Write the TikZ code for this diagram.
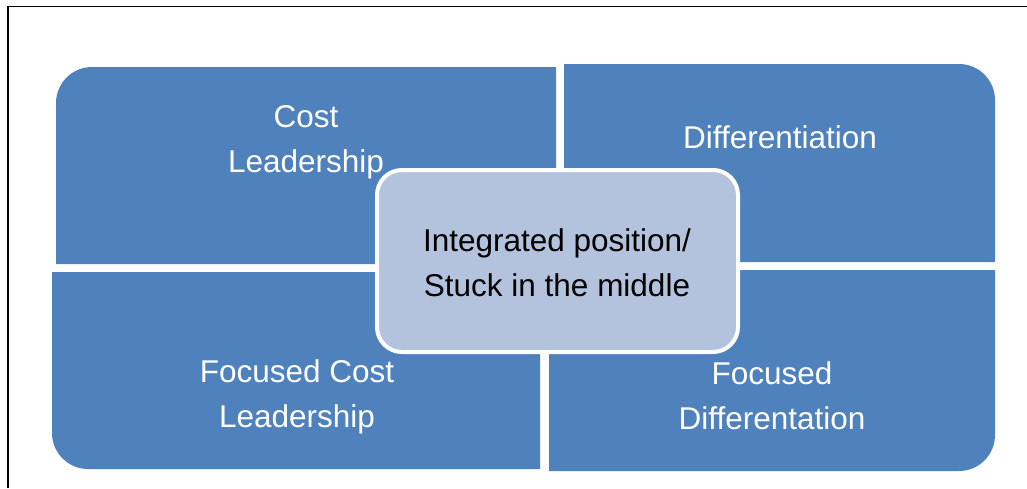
\documentclass[tikz,border=0pt]{standalone}
\usepackage{fontspec}
\setmainfont{Liberation Sans}
\definecolor{quad}{HTML}{4F81BD}
\definecolor{mid}{HTML}{B3C2DD}
\begin{document}
\begin{tikzpicture}[x=1pt,y=-1pt,
  quadfill/.style={fill=quad},
  lbl/.style={text=white,align=center,font=\fontsize{31.5}{45}\selectfont,inner sep=0pt},
  midbox/.style={fill=mid,draw=white,line width=4pt,rounded corners=25pt}]
\useasboundingbox (0,0) rectangle (1027,488);
% frame
\draw[line width=1.5pt] (8,488) -- (8,6.5) -- (1027,6.5);
% quadrants
\fill[quadfill] (56,264) [rounded corners=36pt] -- (56,67) [sharp corners] -- (556,67) -- (556,264) -- cycle;
\fill[quadfill] (564,262) -- (564,64) [rounded corners=36pt] -- (995,64) [sharp corners] -- (995,262) -- cycle;
\fill[quadfill] (540,272) -- (540,469) [rounded corners=36pt] -- (52,469) [sharp corners] -- (52,272) -- cycle;
\fill[quadfill] (549,270) -- (995,270) [rounded corners=36pt] -- (995,471) [sharp corners] -- (549,471) -- cycle;
% labels
\node[lbl] (cl) at (306,142.5) {Cost\\Leadership};
\node[lbl] (df) at (780,137) {Differentiation};
\node[lbl] (fcl) at (297,397) {Focused Cost\\Leadership};
\node[lbl] (fd) at (772,395.5) {Focused\\Differentation};
% centre
\draw[midbox] (377,170) rectangle (738,352);
\node[lbl,text=black] (ctr) at (557,262.5) {Integrated position/\\Stuck in the middle};
\end{tikzpicture}
\end{document}
